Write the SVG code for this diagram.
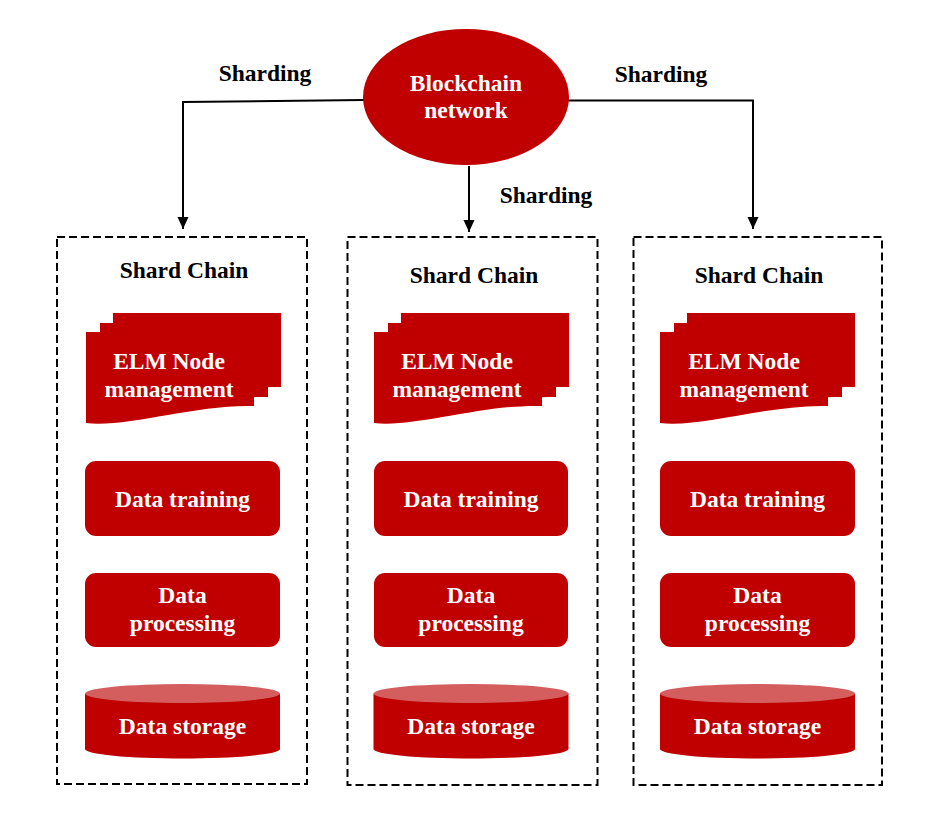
<svg xmlns="http://www.w3.org/2000/svg" xmlns:xlink="http://www.w3.org/1999/xlink" width="939" height="823" viewBox="0 0 939 823">
<style>
  text { font-family: "Liberation Serif", "Times New Roman", serif; font-weight: bold; font-size: 23.5px; text-anchor: middle; }
  .lbl { fill: #000; }
  .wt { fill: #fff; }
  .red { fill: #c00000; }
  .cyltop { fill: #d45d5d; }
  .box { fill: none; stroke: #000; stroke-width: 2; stroke-dasharray: 8 4; }
  .conn { fill: none; stroke: #000; stroke-width: 2; }
</style>
<defs>
  <marker id="arr" markerUnits="userSpaceOnUse" markerWidth="14" markerHeight="14" viewBox="0 0 14 14" refX="12" refY="7" orient="auto">
    <path d="M0,1.5 L12,7 L0,12.5 Z" fill="#000"/>
  </marker>
  <path id="page" d="M0,0 H168 V74 C110,72 40,96 0,91 Z"/>
  <g id="multidoc">
    <use xlink:href="#page" x="27" y="0"/>
    <use xlink:href="#page" x="14" y="10"/>
    <use xlink:href="#page" x="0" y="19"/>
  </g>
  <g id="cyl">
    <path d="M0,0 V55.5 A97.5,9.5 0 0 0 195,55.5 V0 Z"/>
  </g>
</defs>
<rect width="939" height="823" fill="#fff"/>

<g id="connectors">
  <path class="conn" d="M364,100 L183,102 V229" marker-end="url(#arr)"/>
  <path class="conn" d="M469,166 V232" marker-end="url(#arr)"/>
  <path class="conn" d="M568,100.5 H753 V229" marker-end="url(#arr)"/>
  <text class="lbl" x="265" y="81">Sharding</text>
  <text class="lbl" x="546" y="203">Sharding</text>
  <text class="lbl" x="661" y="82">Sharding</text>
</g>

<g id="blockchain">
  <ellipse class="red" cx="466" cy="97" rx="103" ry="68"/>
  <text class="wt" x="466" y="91">Blockchain</text>
  <text class="wt" x="466" y="118">network</text>
</g>

<g id="shard-left">
  <rect class="box" x="57" y="237" width="250" height="547"/>
  <text class="lbl" x="184" y="278">Shard Chain</text>
  <g id="elm-left">
    <use xlink:href="#multidoc" class="red" x="86" y="313"/>
    <text class="wt" x="169" y="369">ELM Node</text>
    <text class="wt" x="169" y="397">management</text>
  </g>
  <g id="train-left">
    <rect class="red" x="85" y="461" width="195" height="75" rx="11"/>
    <text class="wt" x="182.5" y="507">Data training</text>
  </g>
  <g id="proc-left">
    <rect class="red" x="85" y="573" width="195" height="74" rx="11"/>
    <text class="wt" x="182.5" y="603">Data</text>
    <text class="wt" x="182.5" y="631">processing</text>
  </g>
  <g id="store-left">
    <use xlink:href="#cyl" class="red" x="85" y="693.5"/>
    <ellipse class="cyltop" cx="182.5" cy="693.5" rx="97.5" ry="9.5"/>
    <text class="wt" x="182.5" y="734">Data storage</text>
  </g>
</g>

<g id="shard-middle">
  <rect class="box" x="347.5" y="237" width="250" height="548"/>
  <text class="lbl" x="474" y="283">Shard Chain</text>
  <g id="elm-middle">
    <use xlink:href="#multidoc" class="red" x="374" y="313"/>
    <text class="wt" x="457" y="369">ELM Node</text>
    <text class="wt" x="457" y="397">management</text>
  </g>
  <g id="train-middle">
    <rect class="red" x="374" y="461" width="194" height="75" rx="11"/>
    <text class="wt" x="471" y="507">Data training</text>
  </g>
  <g id="proc-middle">
    <rect class="red" x="374" y="573" width="194" height="74" rx="11"/>
    <text class="wt" x="471" y="603">Data</text>
    <text class="wt" x="471" y="631">processing</text>
  </g>
  <g id="store-middle">
    <use xlink:href="#cyl" class="red" x="373.5" y="693.5"/>
    <ellipse class="cyltop" cx="471" cy="693.5" rx="97.5" ry="9.5"/>
    <text class="wt" x="471" y="734">Data storage</text>
  </g>
</g>

<g id="shard-right">
  <rect class="box" x="633.5" y="237" width="248.5" height="548"/>
  <text class="lbl" x="759" y="283">Shard Chain</text>
  <g id="elm-right">
    <use xlink:href="#multidoc" class="red" x="660" y="313"/>
    <text class="wt" x="744" y="369">ELM Node</text>
    <text class="wt" x="744" y="397">management</text>
  </g>
  <g id="train-right">
    <rect class="red" x="660" y="461" width="195" height="75" rx="11"/>
    <text class="wt" x="757.5" y="507">Data training</text>
  </g>
  <g id="proc-right">
    <rect class="red" x="660" y="573" width="195" height="74" rx="11"/>
    <text class="wt" x="757.5" y="603">Data</text>
    <text class="wt" x="757.5" y="631">processing</text>
  </g>
  <g id="store-right">
    <use xlink:href="#cyl" class="red" x="660" y="693.5"/>
    <ellipse class="cyltop" cx="757.5" cy="693.5" rx="97.5" ry="9.5"/>
    <text class="wt" x="757.5" y="734">Data storage</text>
  </g>
</g>
</svg>
